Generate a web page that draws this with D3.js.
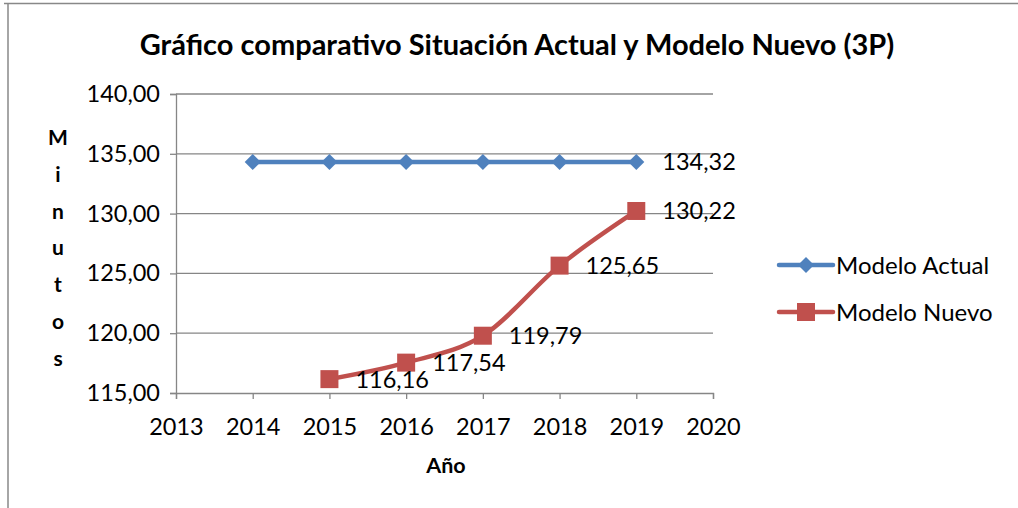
<!DOCTYPE html>
<html>
<head>
<meta charset="utf-8">
<script src="https://cdn.jsdelivr.net/npm/d3@7"></script>
<style>
  body { margin: 0; background: #fff; }
  text { font-family: Lato, "Open Sans", sans-serif; fill: #000; }
</style>
</head>
<body>
<div id="chart"></div>
<script>
// data
var years = [2014, 2015, 2016, 2017, 2018, 2019];
var modeloActual = [134.32, 134.32, 134.32, 134.32, 134.32, 134.32];
var modeloNuevo = [null, 116.16, 117.54, 119.79, 125.65, 130.22];
var xTicks = [2013, 2014, 2015, 2016, 2017, 2018, 2019, 2020];
var yTicks = [115, 120, 125, 130, 135, 140];
var seriesNames = ["Modelo Actual", "Modelo Nuevo"];
var colors = ["#4F81BD", "#C0504D"];

var W = 1018, H = 508;
var margin = { top: 94, right: 305, bottom: 115, left: 176 },
    width = W - margin.left - margin.right,
    height = H - margin.top - margin.bottom;

var svgRoot = d3.select("#chart")
    .append("svg")
    .attr("width", W)
    .attr("height", H);

// chart area border (only top and left visible)
svgRoot.append("line").attr("x1", 4).attr("x2", W).attr("y1", 3.5).attr("y2", 3.5)
    .attr("stroke", "#888").attr("stroke-width", 1.5);
svgRoot.append("line").attr("x1", 8).attr("x2", 8).attr("y1", 3).attr("y2", H)
    .attr("stroke", "#888").attr("stroke-width", 1.5);

svgRoot.append("text")
    .attr("x", 517)
    .attr("y", 55)
    .attr("text-anchor", "middle")
    .style("font-size", "29px")
    .style("font-weight", "bold")
    .text("Gráfico comparativo Situación Actual y Modelo Nuevo (3P)");

var svg = svgRoot.append("g")
    .attr("transform", "translate(" + margin.left + "," + margin.top + ")");

var x = d3.scaleLinear().domain([2013, 2020]).range([0, width]);
var y = d3.scaleLinear().domain([115, 140]).range([height, 0]);

var fmt = function (v) { return d3.format(".2f")(v).replace(".", ","); };

// gridlines
svg.selectAll(".grid")
    .data(yTicks.slice(1))
    .enter()
    .append("line")
    .attr("x1", 0).attr("x2", width)
    .attr("y1", function (d) { return y(d); })
    .attr("y2", function (d) { return y(d); })
    .attr("stroke", "#868686")
    .attr("stroke-width", 1.3);

// Y axis
var yAxis = svg.append("g")
    .call(d3.axisLeft(y).tickValues(yTicks).tickFormat(fmt).tickSize(6).tickPadding(10));
yAxis.select(".domain").attr("stroke", "#868686").attr("stroke-width", 1.3);
yAxis.selectAll(".tick line").attr("stroke", "#868686").attr("stroke-width", 1.3);
yAxis.selectAll("text").style("font-size", "23.5px").attr("fill", "#000")
    .style("font-family", "Lato, sans-serif");

// X axis
var xAxis = svg.append("g")
    .attr("transform", "translate(0," + height + ")")
    .call(d3.axisBottom(x).tickValues(xTicks).tickFormat(d3.format("d")).tickSize(6).tickPadding(19));
xAxis.select(".domain").attr("stroke", "#868686").attr("stroke-width", 1.3);
xAxis.selectAll(".tick line").attr("stroke", "#868686").attr("stroke-width", 1.3);
xAxis.selectAll("text").style("font-size", "23.5px").attr("fill", "#000")
    .style("font-family", "Lato, sans-serif");

// axis titles
svgRoot.append("text")
    .attr("x", 446)
    .attr("y", 473)
    .attr("text-anchor", "middle")
    .style("font-size", "21.5px")
    .style("font-weight", "bold")
    .text("Año");

var yLabel = "Minutos".split("");
svgRoot.selectAll(".ylab")
    .data(yLabel)
    .enter()
    .append("text")
    .attr("x", 58)
    .attr("y", function (d, i) { return 145 + i * 36.8; })
    .attr("text-anchor", "middle")
    .style("font-size", "21px")
    .style("font-weight", "bold")
    .text(function (d) { return d; });

// series
var series = [modeloActual, modeloNuevo];
var line = d3.line()
    .defined(function (d) { return d.v != null; })
    .x(function (d) { return x(d.year); })
    .y(function (d) { return y(d.v); })
    .curve(d3.curveCatmullRom.alpha(0));

series.forEach(function (vals, si) {
    var pts = years.map(function (yr, i) { return { year: yr, v: vals[i] }; })
        .filter(function (d) { return d.v != null; });

    svg.append("path")
        .datum(pts)
        .attr("d", line)
        .attr("fill", "none")
        .attr("stroke", colors[si])
        .attr("stroke-width", 4.5)
        .attr("stroke-linejoin", "round");

    var marks = svg.selectAll(".m" + si)
        .data(pts)
        .enter()
        .append("path")
        .attr("transform", function (d) { return "translate(" + x(d.year) + "," + y(d.v) + ")"; })
        .attr("fill", colors[si]);
    if (si === 0) {
        marks.attr("d", "M0,-8L8,0L0,8L-8,0Z");
    } else {
        marks.attr("d", "M-9,-9H9V9H-9Z");
    }

    // data labels
    svg.selectAll(".l" + si)
        .data(pts.filter(function (d, i) { return si === 1 || i === pts.length - 1; }))
        .enter()
        .append("text")
        .attr("x", function (d) { return x(d.year) + 26; })
        .attr("y", function (d) { return y(d.v); })
        .attr("dy", "0.36em")
        .style("font-size", "23.5px")
        .text(function (d) { return fmt(d.v); });
});

// legend
var legend = svgRoot.append("g").attr("transform", "translate(779,265)");
seriesNames.forEach(function (name, i) {
    var g = legend.append("g").attr("transform", "translate(0," + (i * 47) + ")");
    g.append("line").attr("x1", 0).attr("x2", 54).attr("y1", 0).attr("y2", 0)
        .attr("stroke", colors[i]).attr("stroke-width", 4.5).attr("stroke-linecap", "round");
    g.append("path")
        .attr("transform", "translate(27,0)")
        .attr("d", i === 0 ? "M0,-8L8,0L0,8L-8,0Z" : "M-9,-9H9V9H-9Z")
        .attr("fill", colors[i]);
    g.append("text")
        .attr("x", 57)
        .attr("y", 0)
        .attr("dy", "0.36em")
        .style("font-size", "24px")
        .text(name);
});
</script>
</body>
</html>
